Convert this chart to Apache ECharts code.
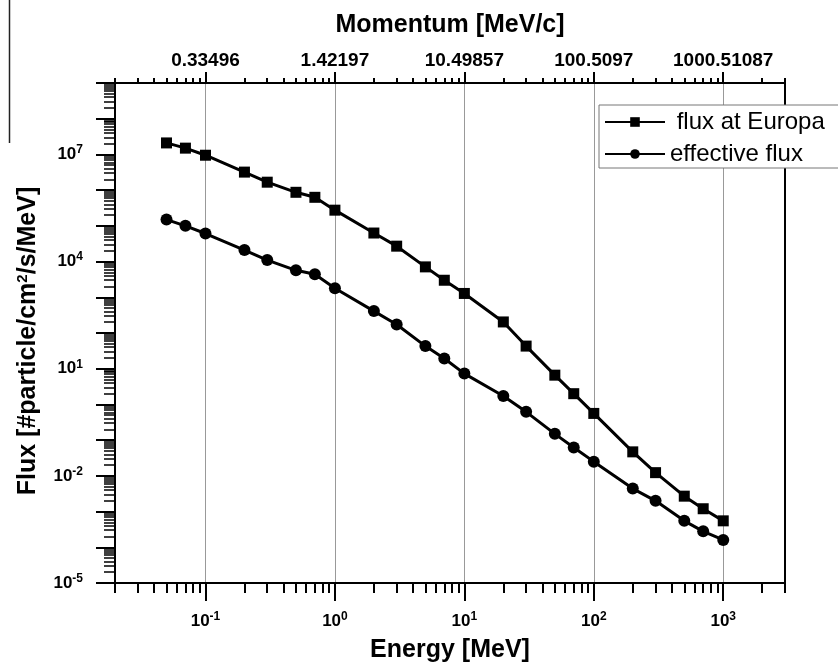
<!DOCTYPE html>
<html>
<head>
<meta charset="utf-8">
<script src="https://cdn.jsdelivr.net/npm/echarts@6/dist/echarts.min.js"></script>
<style>html,body{margin:0;padding:0;background:#fff}#chart{width:838px;height:669px}</style>
</head>
<body>
<div id="chart"></div>
<script>
// ---- data ----
const energy = [0.05, 0.07, 0.1, 0.2, 0.3, 0.5, 0.7, 1, 2, 3, 5, 7, 10, 20, 30, 50, 70, 100, 200, 300, 500, 700, 1000];
const fluxEuropa = [2.1e7, 1.5e7, 9.5e6, 3.2e6, 1.67e6, 8.7e5, 6.3e5, 2.75e5, 6.3e4, 2.7e4, 7.1e3, 3.0e3, 1.28e3, 204, 43, 6.6, 2.0, 0.56, 0.047, 0.0123, 0.0027, 0.0012, 5.5e-4];
const fluxEffective = [1.5e5, 1.0e5, 6.1e4, 2.1e4, 1.1e4, 5.7e3, 4.4e3, 1.8e3, 410, 173, 43, 19.3, 7.3, 1.73, 0.62, 0.15, 0.062, 0.025, 0.0044, 0.002, 5.5e-4, 2.8e-4, 1.6e-4];
const seriesNames = ['flux at Europa', 'effective flux'];

// ---- axes / tick labels ----
const xMin = 0.02, xMax = 3000;
const yMin = 1e-5, yMax = 1e9;
const xDecades = [0.1, 1, 10, 100, 1000];
const momentumLabels = ['0.33496', '1.42197', '10.49857', '100.5097', '1000.51087'];
const yDecadeExps = [-5, -4, -3, -2, -1, 0, 1, 2, 3, 4, 5, 6, 7, 8, 9];
const yLabelExps = [-5, -2, 1, 4, 7];

const FONT = '"Liberation Sans", Arial, Helvetica, sans-serif';
const yDecades = yDecadeExps.map(e => Math.pow(10, e));
const yLabelVals = yLabelExps.map(e => Math.pow(10, e));

function minorTicks(lo, hi) {
  const out = [];
  for (let e = -3; e <= 4; e++) {
    for (let m = 2; m <= 9; m++) {
      const v = m * Math.pow(10, e);
      if (v >= lo * 0.9999 && v <= hi * 1.0001) out.push(v);
    }
  }
  return out;
}
function minorTicksY() {
  const out = [];
  for (let e = -5; e < 9; e++) for (let m = 2; m <= 9; m++) out.push(m * Math.pow(10, e));
  return out;
}
const xMinor = minorTicks(xMin, xMax);
const yMinor = minorTicksY();

function powLabel(v) {
  const e = Math.round(Math.log10(v));
  return '{b|10}{s|' + e + '}';
}
const powRich = {
  b: { fontSize: 17, fontWeight: 'bold', fontFamily: FONT, color: '#000' },
  s: { fontSize: 12, fontWeight: 'bold', fontFamily: FONT, color: '#000', padding: [0, 0, 9, 0] }
};

const chart = echarts.init(document.getElementById('chart'), null, { renderer: 'canvas' });

const baseLog = (extra) => Object.assign({
  type: 'log', logBase: 10, min: xMin, max: xMax,
  splitLine: { show: false }, minorTick: { show: false }, minorSplitLine: { show: false }
}, extra);

const option = {
  animation: false,
  backgroundColor: '#fff',
  grid: { left: 115, right: 53, top: 83, bottom: 86, show: true, borderColor: '#000', borderWidth: 2, containLabel: false },
  legend: {
    data: seriesNames,
    orient: 'vertical',
    left: 599, top: 105,
    itemWidth: 60, itemHeight: 12, itemGap: 8,
    padding: [5, 40, 2, 5],
    backgroundColor: '#fff',
    borderColor: '#777', borderWidth: 1,
    formatter: (n) => (n === seriesNames[0] ? ' ' + n : n),
    textStyle: { fontSize: 24, fontFamily: FONT, color: '#000', lineHeight: 24 }
  },
  xAxis: [
    baseLog({
      position: 'bottom',
      name: 'Energy [MeV]', nameLocation: 'middle', nameGap: 55,
      nameTextStyle: { fontSize: 25, fontWeight: 'bold', fontFamily: FONT, color: '#000' },
      axisLine: { show: true, lineStyle: { color: '#000', width: 2 } },
      axisTick: { show: true, inside: false, length: 18, customValues: xDecades, lineStyle: { color: '#000', width: 2 } },
      axisLabel: { customValues: xDecades, margin: 28, formatter: powLabel, rich: powRich },
      splitLine: { show: true, lineStyle: { color: '#999', width: 1 } }
    }),
    baseLog({
      position: 'bottom',
      axisLine: { show: false },
      axisTick: { show: true, length: 10, customValues: xMinor, lineStyle: { color: '#000', width: 2 } },
      axisLabel: { show: false }
    }),
    baseLog({
      position: 'top',
      name: 'Momentum [MeV/c]', nameLocation: 'middle', nameGap: 45,
      nameTextStyle: { fontSize: 25, fontWeight: 'bold', fontFamily: FONT, color: '#000' },
      axisLine: { show: true, lineStyle: { color: '#000', width: 2 } },
      axisTick: { show: true, length: 11, customValues: xDecades, lineStyle: { color: '#000', width: 2 } },
      axisLabel: {
        customValues: xDecades, margin: 13,
        fontSize: 19, fontWeight: 'bold', fontFamily: FONT, color: '#000',
        formatter: (v) => {
          const i = xDecades.findIndex(d => Math.abs(Math.log10(d) - Math.log10(v)) < 1e-6);
          return i >= 0 ? momentumLabels[i] : '';
        }
      }
    }),
    baseLog({
      position: 'top',
      axisLine: { show: false },
      axisTick: { show: true, length: 5, customValues: xMinor, lineStyle: { color: '#000', width: 2 } },
      axisLabel: { show: false }
    })
  ],
  yAxis: [
    {
      type: 'log', logBase: 10, min: yMin, max: yMax, position: 'left',
      name: 'Flux [#particle/cm{sup|2}/s/MeV]', nameLocation: 'middle', nameGap: 74, nameRotate: 90,
      nameTextStyle: {
        fontSize: 25, fontWeight: 'bold', fontFamily: FONT, color: '#000',
        padding: [0, 16, 0, 0],
        rich: { sup: { fontSize: 15, fontWeight: 'bold', fontFamily: FONT, color: '#000', padding: [0, 0, 11, 0] } }
      },
      axisLine: { show: true, lineStyle: { color: '#000', width: 2 } },
      axisTick: { show: true, length: 19, customValues: yDecades, lineStyle: { color: '#000', width: 2 } },
      axisLabel: { customValues: yLabelVals, margin: 32, formatter: powLabel, rich: powRich },
      splitLine: { show: false }, minorTick: { show: false }
    },
    {
      type: 'log', logBase: 10, min: yMin, max: yMax, position: 'left',
      axisLine: { show: false },
      axisTick: { show: true, length: 11, customValues: yMinor, lineStyle: { color: '#000', width: 1.5 } },
      axisLabel: { show: false },
      splitLine: { show: false }, minorTick: { show: false }
    }
  ],
  series: [
    {
      name: seriesNames[0], type: 'line', xAxisIndex: 0, yAxisIndex: 0,
      data: energy.map((e, i) => [e, fluxEuropa[i]]),
      symbol: 'rect', symbolSize: 11,
      lineStyle: { color: '#000', width: 3 }, itemStyle: { color: '#000' }
    },
    {
      name: seriesNames[1], type: 'line', xAxisIndex: 0, yAxisIndex: 0,
      data: energy.map((e, i) => [e, fluxEffective[i]]),
      symbol: 'circle', symbolSize: 12,
      lineStyle: { color: '#000', width: 3 }, itemStyle: { color: '#000' }
    }
  ],
  graphic: [
    { type: 'line', shape: { x1: 9.5, y1: 0, x2: 9.5, y2: 143 }, style: { stroke: '#222', lineWidth: 1.5 } }
  ]
};
chart.setOption(option);
</script>
</body>
</html>
